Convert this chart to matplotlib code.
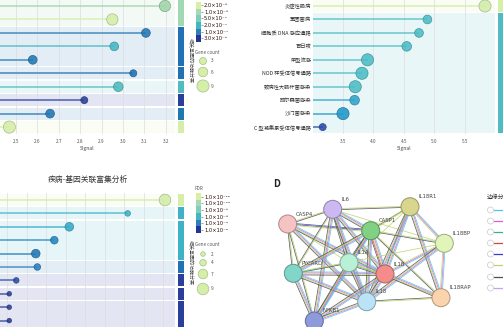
import numpy as np
import matplotlib.pyplot as plt
import matplotlib.transforms as mtransforms
from matplotlib.patches import Circle, Rectangle
from matplotlib.colors import ListedColormap, to_rgb

plt.rcParams['font.family'] = ['Noto Sans CJK SC', 'DejaVu Sans']
plt.rcParams['axes.unicode_minus'] = False

W, H = 503, 327

# ---- A: 富集结果（上左）
a_signal = [3.196, 2.950, 3.107, 2.959, 2.578, 3.048, 2.978, 2.819, 2.659, 2.469]
a_count = [8, 8, 5, 5, 5, 3, 6, 3, 5, 9]
a_color = ['#9fd4a9', '#d5eea8', '#2178b4', '#45b8c4', '#2178b4', '#2170b0',
           '#4cbcc0', '#2a3f9c', '#1f76b4', '#d5eea8']
a_groups = [(0, 1), (2, 4), (5, 5), (6, 6), (7, 7), (8, 8), (9, 9)]
a_group_color = ['#a1d9b4', '#2171b5', '#2171b5', '#50bcc2', '#2a3f9c', '#1f78b4', '#d5eea8']
a_ticks = [2.5, 2.6, 2.7, 2.8, 2.9, 3.0, 3.1, 3.2]
a_cbar_labels = ['2.0×10⁻⁶', '1.0×10⁻⁶', '5.0×10⁻⁷', '2.0×10⁻⁷', '1.0×10⁻⁷', '3.0×10⁻⁸']
a_legend_counts = [3, 6, 9]

# ---- B: KEGG 通路（上右）
b_terms = ['炎症性肠病', '军团菌病', '细胞质 DNA 感应通路', '百日咳', '甲型流感',
           'NOD 样受体信号通路', '致病性大肠杆菌感染', '耶尔森菌感染', '沙门菌感染',
           'C 型凝集素受体信号通路']
b_signal = [5.833, 4.889, 4.751, 4.550, 3.907, 3.816, 3.706, 3.695, 3.505, 3.172]
b_count = [9, 5, 5, 6, 9, 9, 9, 6, 9, 3]
b_color = ['#d2ecaa', '#4bbcc4', '#4bbcc4', '#4bbcc4', '#4bbcc4', '#4bbcc4',
           '#4bbcc4', '#2ea3c8', '#1e97c8', '#2a4aa8']
b_groups = [(0, 0), (1, 9)]
b_group_color = ['#d5eea8', '#50bcc2']
b_ticks = [3.5, 4.0, 4.5, 5.0, 5.5]

# ---- C: 疾病-基因关联（下左）
c_signal = [9.087, 7.174, 4.18, 3.41, 2.46, 2.54, 1.46, 1.10, 1.10, 1.10]
c_count = [9, 3, 6, 5, 6, 4, 3, 2, 2, 2]
c_color = ['#d2ecaa', '#3fb5c8', '#35aac6', '#2387bf', '#2178b6', '#2a7fbf',
           '#2b4fa5', '#2a3f9c', '#2a3f9c', '#2a3f9c']
c_groups = [(0, 0), (1, 1), (2, 4), (5, 5), (6, 6), (7, 7), (8, 9)]
c_group_color = ['#d5eea8', '#3fb2c6', '#3fb2c6', '#2171b5', '#2a3f9c', '#2a3f9c', '#2a3f9c']
c_ticks = [1, 2, 3, 4, 5, 6, 7, 8, 9]
c_cbar_labels = ['1.0×10⁻¹²', '1.0×10⁻¹⁰', '1.0×10⁻⁸', '1.0×10⁻⁶', '1.0×10⁻⁴', '1.0×10⁻²']
c_legend_counts = [2, 4, 7, 9]

cbar_colors = ['#d9f0a3', '#a1dab4', '#7fcdbb', '#41b6c4', '#2c7fb8', '#253494']

# ---- D: PPI 网络
d_nodes = ['IL6', 'IL18R1', 'CASP4', 'CASP1', 'IL18BP', 'PYCARD', 'IL1A', 'IL1B',
           'IL18', 'IL18RAP', 'NFKB1']
d_x = [332.7, 410.0, 287.7, 370.7, 444.3, 293.3, 349.0, 385.0, 366.7, 441.0, 314.3]
d_y = [209.3, 206.7, 224.0, 230.7, 243.3, 273.3, 262.7, 274.0, 301.7, 297.7, 321.0]
d_fill = ['#cdb8f2', '#d8d68e', '#f6c2c2', '#80d184', '#e2f5b9', '#82d6c9', '#b8f1d6',
          '#f48c8c', '#bbe3f7', '#fbd4ad', '#8e9ad9']
d_edges = [('CASP4', 'IL6', 'yk'), ('CASP4', 'CASP1', 'bky'), ('CASP4', 'PYCARD', 'yk'),
           ('CASP4', 'IL1A', 'y'), ('CASP4', 'IL1B', 'cmyk'), ('CASP4', 'IL18', 'cmyk'),
           ('CASP4', 'NFKB1', 'yk'),
           ('IL6', 'IL18R1', 'yk'), ('IL6', 'CASP1', 'cmyk'), ('IL6', 'PYCARD', 'yk'),
           ('IL6', 'IL1A', 'cmyk'), ('IL6', 'IL1B', 'cmyk'), ('IL6', 'IL18', 'cmyk'),
           ('IL6', 'NFKB1', 'cmyk'), ('IL6', 'IL18BP', 'y'),
           ('IL18R1', 'CASP1', 'yk'), ('IL18R1', 'IL18BP', 'cmy'), ('IL18R1', 'IL1B', 'cmyk'),
           ('IL18R1', 'IL18', 'cmyk'), ('IL18R1', 'IL18RAP', 'cmyk'), ('IL18R1', 'PYCARD', 'y'),
           ('IL18R1', 'IL1A', 'y'),
           ('CASP1', 'IL18BP', 'yk'), ('CASP1', 'PYCARD', 'cmyk'), ('CASP1', 'IL1A', 'cmyk'),
           ('CASP1', 'IL1B', 'cmyrk'), ('CASP1', 'IL18', 'cmyk'), ('CASP1', 'NFKB1', 'cmyk'),
           ('CASP1', 'IL18RAP', 'yk'),
           ('IL18BP', 'IL1B', 'cmy'), ('IL18BP', 'IL18', 'cmyk'), ('IL18BP', 'IL18RAP', 'cmy'),
           ('IL18BP', 'PYCARD', 'y'),
           ('PYCARD', 'IL1A', 'yk'), ('PYCARD', 'IL1B', 'cmyk'), ('PYCARD', 'IL18', 'cmyk'),
           ('PYCARD', 'NFKB1', 'cmyk'),
           ('IL1A', 'IL1B', 'cmygk'), ('IL1A', 'IL18', 'cmyk'), ('IL1A', 'NFKB1', 'cmyk'),
           ('IL1A', 'IL18RAP', 'y'),
           ('IL1B', 'IL18', 'cmyk'), ('IL1B', 'IL18RAP', 'cmyk'), ('IL1B', 'NFKB1', 'cmyk'),
           ('IL18', 'IL18RAP', 'ky'), ('IL18', 'NFKB1', 'cmyk')]
evid_code = ['c', 'm', 'g', 'r', 'b', 'y', 'k', 'p']
evid_color = ['#4cc6e8', '#dd5fd6', '#34b38b', '#d9433d', '#3a3ad0', '#b8d36a', '#505050', '#c6a0ee']


def lighten(c, f):
    rgb = np.array(to_rgb(c))
    return tuple(rgb + (1 - rgb) * f)


def darken(c, f=0.25):
    return tuple(np.array(to_rgb(c)) * (1 - f))


def px_axes(fig, left, top, width, height):
    return fig.add_axes([left / W, 1 - (top + height) / H, width / W, height / H])


def lollipop(ax, vals, counts, colors, groups, gcolors, xlim, width_px, d0, dk):
    n = len(vals)
    y = np.arange(n)
    gap = 0.05
    ax.set_xlim(*xlim)
    ax.set_ylim(n - 0.5, -0.5)
    tr = mtransforms.blended_transform_factory(ax.transAxes, ax.transData)
    for (r0, r1), gc in zip(groups, gcolors):
        ax.axhspan(r0 - 0.5 + gap, r1 + 0.5 - gap, color=lighten(gc, 0.87), lw=0, zorder=0)
        ax.add_patch(Rectangle((1 + 3 / width_px, r0 - 0.5 + gap), 6 / width_px,
                               r1 - r0 + 1 - 2 * gap, transform=tr, color=gc,
                               lw=0, clip_on=False))
    ax.hlines(y, xlim[0], vals, colors=colors, lw=1.3, alpha=0.7, zorder=2)
    sizes = [((d0 + dk * c) * 0.72) ** 2 for c in counts]
    ax.scatter(vals, y, s=sizes, c=colors, edgecolors=[darken(c) for c in colors],
               linewidths=0.5, alpha=0.88, zorder=3)
    ax.grid(axis='x', color='#dddddd', lw=0.5)
    ax.set_axisbelow(True)
    for sp in ax.spines.values():
        sp.set_visible(False)
    ax.tick_params(axis='x', length=0, labelsize=3.4, labelcolor='#555555', pad=4)
    ax.tick_params(axis='y', length=0)


fig = plt.figure(figsize=(W / 100, H / 100), dpi=100)

# A
ax_a = px_axes(fig, 0, -0.7, 175, 134.5)
lollipop(ax_a, a_signal, a_count, a_color, a_groups, a_group_color,
         (2.425, 3.243), 175, 4.5, 0.85)
ax_a.set_xticks(a_ticks)
ax_a.set_xticklabels([f'{t:.1f}' for t in a_ticks])
ax_a.set_yticks([])
ax_a.set_xlabel('Signal', fontsize=3.6, color='#444444', labelpad=1)

# B
ax_b = px_axes(fig, 313, -0.7, 182, 134.5)
lollipop(ax_b, b_signal, b_count, b_color, b_groups, b_group_color,
         (3.013, 5.997), 182, 4.5, 0.85)
ax_b.set_xticks(b_ticks)
ax_b.set_xticklabels([f'{t:.1f}' for t in b_ticks])
ax_b.set_yticks(range(len(b_terms)))
ax_b.set_yticklabels(b_terms, fontsize=3.8, color='#333333')
ax_b.tick_params(axis='y', pad=1.5)
ax_b.set_xlabel('Signal', fontsize=3.6, color='#444444', labelpad=1)

# C
ax_c = px_axes(fig, 0, 193.3, 175, 134)
lollipop(ax_c, c_signal, c_count, c_color, c_groups, c_group_color,
         (0.626, 9.6), 175, 2.6, 1.0)
ax_c.set_xticks(c_ticks)
ax_c.tick_params(axis='x', labelbottom=False)
ax_c.set_yticks([])

# colour legends
for top, labels in [(1.7, a_cbar_labels), (193.3, c_cbar_labels)]:
    cax = px_axes(fig, 196, top, 5, 40)
    cax.imshow(np.arange(6).reshape(-1, 1), cmap=ListedColormap(cbar_colors),
               aspect='auto', interpolation='nearest')
    cax.set_xticks([])
    cax.yaxis.tick_right()
    cax.set_yticks(range(6))
    cax.set_yticklabels(labels, fontsize=3.7, family='DejaVu Sans')
    cax.tick_params(axis='y', length=1.5, width=0.4, pad=0.6, colors='#555555',
                    labelcolor='#2a0a00')
    for sp in cax.spines.values():
        sp.set_visible(False)

# overlay in pixel units
ov = fig.add_axes([0, 0, 1, 1])
ov.set_xlim(0, W)
ov.set_ylim(H, 0)
ov.axis('off')

ov.text(88, 180, '疾病-基因关联富集分析', fontsize=5.6, color='#333333', ha='center', va='center')
ov.text(195, 189, 'FDR', fontsize=3.3, color='#555555', ha='left', va='center')
for yc, txt in [(60, '相关基因的功能分类'), (262, '相关基因的功能分类')]:
    ov.text(190, yc, txt, fontsize=3.6, color='#444444', rotation=270,
            ha='center', va='center')

# gene count legends
leg_a_y = [61, 72, 86]
leg_c_y = [254, 262.7, 274, 289]
ov.text(195, 52, 'Gene count', fontsize=3.3, color='#555555', ha='left', va='center')
ov.text(195, 245, 'Gene count', fontsize=3.3, color='#555555', ha='left', va='center')
ov.scatter([203] * 3, leg_a_y, s=[((4.5 + 0.85 * c) * 0.72) ** 2 for c in a_legend_counts],
           c='#d5eea8', edgecolors='#a6c088', linewidths=0.5)
ov.scatter([203] * 4, leg_c_y, s=[((2.6 + 1.0 * c) * 0.72) ** 2 for c in c_legend_counts],
           c='#d5eea8', edgecolors='#a6c088', linewidths=0.5)
for yy, cnt in zip(leg_a_y, a_legend_counts):
    ov.text(211, yy, str(cnt), fontsize=3.4, color='#555555', va='center')
for yy, cnt in zip(leg_c_y, c_legend_counts):
    ov.text(211, yy, str(cnt), fontsize=3.4, color='#555555', va='center')

# D network
ov.text(273, 184, 'D', fontsize=7, fontweight='bold', color='#222222', va='center')
pos = {nm: (x, y) for nm, x, y in zip(d_nodes, d_x, d_y)}
col_of = dict(zip(evid_code, evid_color))
for n1, n2, ev in d_edges:
    (x1, y1), (x2, y2) = pos[n1], pos[n2]
    dx, dy = x2 - x1, y2 - y1
    L = np.hypot(dx, dy)
    nx, ny = -dy / L, dx / L
    k = len(ev)
    for j, code in enumerate(ev):
        off = (j - (k - 1) / 2) * 1.05
        ov.plot([x1 + nx * off, x2 + nx * off], [y1 + ny * off, y2 + ny * off],
                color=col_of[code], lw=0.55, alpha=0.9, zorder=2, solid_capstyle='butt')
for nm, x, y, fc in zip(d_nodes, d_x, d_y, d_fill):
    ov.add_patch(Circle((x, y), 9, facecolor=fc, edgecolor=darken(fc, 0.3), lw=0.7, zorder=3))
    ov.text(x + 8.5, y - 10, nm, fontsize=3.9, color='#444444', ha='left', va='center',
            family='DejaVu Sans', zorder=4)

# D legend (cut by the crop edge, as in the source figure)
ov.text(487, 197, '边缘分', fontsize=4.2, color='#333333', ha='left', va='center')
leg_d_y = [210, 221, 232, 243, 254, 265, 277, 288]
for yy, c in zip(leg_d_y, evid_color):
    ov.add_patch(Circle((490.5, yy), 3, facecolor='white', edgecolor='#c8c8c8', lw=0.5, zorder=3))
    ov.plot([494, 506], [yy, yy], color=c, lw=0.9, zorder=2)

fig.savefig('out.png', dpi=100)
